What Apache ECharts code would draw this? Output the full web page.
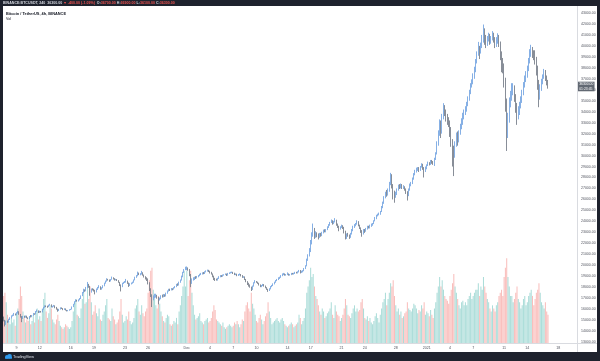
<!DOCTYPE html>
<html><head><meta charset="utf-8">
<script src="https://cdn.jsdelivr.net/npm/echarts/dist/echarts.min.js"></script>
<style>html,body{margin:0;padding:0;background:#1e222d;}#c{width:600px;height:361px;}</style>
</head><body><div id="c"></div>
<script>
// ---- data: BINANCE BTCUSDT 4h candles, from 2020-11-07 08:00 UTC ----
const firstOpen = 15250;
const close = [
14950,14700,14880,14830,
15050,15200,15380,15420,15560,15480,
15650,15780,15520,15300,15150,15330,
15250,15380,15200,15120,15310,15290,
15420,15600,15540,15780,15870,15700,
15800,15720,15980,16150,16300,16280,
16200,16350,16420,16180,16260,16320,
16150,16000,15850,15980,16120,16070,
15950,16050,15900,15820,15880,15960,
15990,16200,16450,16680,16820,16710,
16850,16950,17200,17500,17750,17650,
17950,18250,18050,17600,17820,17780,
17700,17550,17820,17950,18050,17800,
17950,18120,18350,18550,18720,18660,
18550,18700,18850,18780,18650,18700,
18600,18450,18200,18050,18350,18410,
18480,18550,18350,18150,18300,18370,
18450,18650,18900,19050,19250,19160,
19200,19320,19100,18950,18800,18720,
18400,17800,17250,16900,17100,17150,
17250,17050,16850,16950,17200,17140,
17300,17200,17450,17650,17800,17720,
17850,17800,17950,18050,18220,18190,
18450,18650,18950,19350,19600,19700,
19750,19600,19100,18400,18650,18770,
18900,18850,18950,19050,19150,19210,
19300,19250,19400,19480,19550,19420,
19350,19200,19000,18750,18700,18650,
18800,18950,19050,19000,19100,19150,
19200,19100,19250,19300,19350,19360,
19280,19150,19200,19050,19150,19170,
19050,18900,18950,18700,18500,18320,
18150,18000,17800,18100,18400,18540,
18450,18350,18200,18050,18150,18250,
18100,17950,17800,17700,17850,18040,
18150,18300,18450,18600,18700,18810,
18900,19050,19150,19200,19100,19170,
19200,19100,19150,19250,19200,19270,
19350,19300,19400,19550,19350,19430,
19500,19700,19950,20500,20900,21330,
22100,22800,23300,22600,22900,22800,
22650,22850,22700,22950,23150,23110,
23250,23450,23650,23900,24050,23820,
23950,24100,23700,23500,23350,23460,
23600,23400,23050,22500,22800,22720,
22600,22900,23200,23500,23650,23810,
23950,23650,23400,23100,22900,23230,
23150,23300,23500,23450,23600,23730,
23800,24050,24300,24550,24650,24710,
24900,25300,25700,26200,26500,26490,
26800,27500,28100,27200,26400,26280,
26500,26900,27200,27100,27300,27080,
27150,26900,26600,26400,26900,27380,
27500,27900,28300,28600,28750,28880,
28700,28950,29200,28850,28600,28920,
29100,29350,29200,29500,29400,29330,
29700,30200,31100,32000,33000,32180,
33600,34400,33900,33500,33200,33000,
32300,31200,30300,30100,31000,31990,
31500,32100,32600,33200,33600,33950,
34300,34700,35200,35800,36400,36770,
37200,37800,38600,39300,39700,39430,
40100,40600,41400,40700,40500,40580,
40900,40400,40700,41000,40600,40100,
40500,40800,40200,39200,38400,38150,
36800,34800,32000,33500,34800,35400,
35900,36200,35300,34300,33700,34050,
34600,35100,35700,36400,37000,37370,
37900,38600,39300,39700,39300,39140,
38700,37900,36600,35300,36100,36740,
37200,37600,37100,36700,36300
];
const high = [
15320,15020,14950,14960,
15120,15260,15430,15500,15650,15600,
15720,15840,15800,15560,15360,15380,
15400,15420,15400,15250,15360,15460,
15460,15650,15620,15820,15960,15880,
15850,15830,16020,16200,16340,16330,
16310,16400,16480,16430,16300,16380,
16340,16200,16050,16020,16160,16150,
16090,16080,16060,15930,15920,15990,
16020,16240,16480,16720,16880,16850,
16890,17010,17250,17560,17858,17800,
18020,18476,18300,18120,17880,17900,
17850,17760,17880,18020,18180,18080,
17990,18180,18410,18600,18815,18760,
18700,18740,18965,18900,18820,18760,
18740,18640,18480,18250,18400,18480,
18560,18750,18600,18420,18360,18420,
18500,18700,18950,19100,19418,19330,
19280,19484,19360,19150,19000,18900,
18800,18450,17900,17350,17250,17400,
17400,17300,17120,17050,17260,17320,
17380,17350,17500,17700,17850,17860,
17920,17900,18000,18100,18300,18350,
18500,18700,19050,19400,19650,19863,
19888,19800,19650,19200,18800,18900,
18950,19000,19020,19100,19220,19300,
19350,19380,19450,19530,19600,19580,
19500,19400,19250,19050,18850,18780,
18850,19000,19100,19100,19150,19180,
19250,19240,19300,19350,19400,19420,
19400,19320,19250,19230,19200,19250,
19200,19100,19000,18980,18750,18550,
18400,18250,18050,18150,18450,18640,
18560,18500,18400,18250,18200,18300,
18280,18150,18000,17850,17900,18100,
18200,18350,18500,18650,18750,18900,
18950,19100,19250,19300,19250,19200,
19350,19250,19200,19300,19300,19310,
19400,19400,19450,19570,19560,19500,
19550,19750,20000,20600,21000,21560,
22300,23000,23800,23400,23100,23000,
22900,22950,22950,23050,23250,23280,
23300,23550,23750,23950,24171,24100,
24050,24295,24150,23800,23600,23550,
23700,23650,23500,23150,22900,22950,
22800,22950,23300,23600,23750,23850,
24100,24020,23700,23450,23200,23300,
23300,23400,23600,23600,23700,23800,
23850,24100,24400,24600,24700,24800,
24950,25400,25800,26300,26700,26867,
27000,27600,28422,28300,27400,26800,
26700,27000,27350,27400,27450,27400,
27300,27200,27000,26750,27000,27450,
27600,28000,28400,28700,28900,28950,
28950,29050,29300,29250,28950,29000,
29200,29450,29400,29600,29600,29500,
29800,30300,31300,32300,33300,33200,
33800,34778,34600,34200,33800,33500,
33200,32600,31500,30900,31300,32100,
32200,32300,32900,33400,33900,34200,
34500,34900,35400,36000,36600,36950,
37500,38100,38800,39500,40365,40000,
40300,41000,41950,41600,41000,40900,
41200,41100,40900,41350,41200,40800,
40800,41150,41000,40400,39500,38900,
38400,37100,35200,33900,35300,35900,
36600,36600,36400,35600,34800,34500,
34900,35400,36000,36700,37300,37700,
38200,38900,39700,40100,39900,39600,
39600,39000,38200,36900,36500,37000,
37400,37900,37800,37300,36900
];
const low = [
14880,14420,14560,14750,
14780,15000,15150,15330,15380,15420,
15440,15600,15480,15220,14810,15100,
15200,15220,15160,15080,15090,15240,
15260,15400,15480,15520,15740,15640,
15660,15680,15700,15950,16120,16180,
16120,16180,16310,16150,16140,16220,
16080,15950,15760,15820,15960,16010,
15900,15920,15870,15790,15800,15850,
15910,15960,16180,16420,16650,16680,
16690,16800,16920,17180,17450,17580,
17620,17900,17950,17214,17500,17700,
17600,17340,17520,17750,17900,17760,
17770,17900,18080,18320,18500,18600,
18480,18520,18680,18700,18600,18620,
18560,18400,18100,17610,18000,18300,
18380,18420,18300,18020,18100,18250,
18320,18400,18620,18850,18990,19100,
19080,19150,19050,18880,18700,18565,
18250,17650,17100,16188,16800,16950,
17050,16950,16438,16780,16900,17050,
17080,17120,17150,17400,17600,17650,
17700,17720,17780,17900,18000,18120,
18150,18400,18600,18900,19300,19550,
19550,19500,19000,18001,18300,18600,
18650,18750,18800,18900,19000,19100,
19150,19180,19200,19350,19420,19380,
19250,19150,18900,18650,18565,18600,
18600,18750,18900,18920,18950,19050,
19100,19020,19050,19200,19250,19280,
19200,19100,19100,19000,19020,19080,
18980,18850,18850,18650,18450,18200,
18050,17950,17650,17750,18050,18350,
18400,18300,18150,18000,18000,18100,
18050,17900,17750,17572,17650,17800,
18000,18100,18250,18400,18550,18650,
18750,18850,19000,19100,19050,19050,
19100,19050,19050,19100,19150,19150,
19200,19250,19250,19350,19250,19300,
19350,19450,19650,19900,20400,20800,
21200,21900,22600,22400,22500,22550,
22350,22500,22600,22650,22900,23000,
23000,23200,23400,23600,23850,23700,
23750,23900,23600,23400,23100,23250,
23400,23300,22900,22350,22400,22600,
22400,22500,22800,23100,23400,23550,
23700,23550,23300,22950,22600,22800,
22950,23050,23250,23350,23350,23500,
23600,23750,24000,24200,24450,24550,
24600,24850,25200,25600,26100,26250,
26350,26700,27300,27000,26000,25700,
26150,26400,26800,26950,27000,26950,
26950,26800,26500,25900,26300,26800,
27200,27400,27800,28200,28450,28600,
28500,28600,28900,28700,28000,28500,
28750,29050,29100,29150,29250,29150,
29050,29600,30100,30900,31800,31600,
32000,33300,33600,33100,32800,32600,
31700,30800,29000,28130,29800,30800,
30900,31200,31900,32400,32800,33300,
33700,34000,34500,35000,35600,36200,
36500,37000,37600,38400,39100,38800,
39300,39800,40300,40100,39800,40000,
40400,40100,40200,40500,40300,39800,
39900,40200,39900,38700,37600,37500,
36200,34000,30420,31600,33000,34400,
35000,35500,34900,33900,32800,33300,
33700,34300,34800,35500,36200,36700,
37100,37700,38400,39000,38900,38700,
38300,37300,36000,34408,35100,35900,
36500,37000,36800,36400,36100
];
// volume, thousand BTC per 4h candle
const volume = [
30,32,26,18,
14,12,16,13,15,11,
18,22,28,36,30,20,
16,13,15,14,17,12,
14,18,13,20,22,15,
17,14,22,28,32,20,
16,19,24,22,15,13,
12,15,18,14,11,10,
9,10,12,11,10,9,
10,14,20,26,28,18,
17,16,22,28,34,25,
26,38,28,36,26,18,
20,24,19,17,22,15,
14,18,20,24,28,16,
15,14,22,17,15,12,
13,15,20,28,18,13,
14,17,15,20,14,12,
13,16,22,24,28,20,
18,24,19,17,20,22,
32,40,46,48,34,28,
24,22,30,25,20,17,
14,13,16,18,17,12,
11,12,14,13,16,12,
20,24,30,36,46,36,
46,30,40,46,32,24,
18,15,16,17,19,14,
13,12,14,15,16,13,
14,16,20,24,21,15,
14,13,12,11,13,10,
9,10,11,12,11,10,
11,13,12,14,12,10,
12,15,14,20,24,26,
22,20,32,25,22,18,
14,13,16,18,15,12,
14,17,19,26,20,16,
12,13,14,15,16,14,
13,15,16,14,12,11,
10,11,12,13,12,10,
11,12,13,18,16,12,
14,16,22,32,36,40,
48,42,44,36,30,28,
24,20,18,22,20,16,
17,19,20,22,26,18,
16,24,20,18,17,14,
16,18,22,28,24,18,
17,16,19,22,24,20,
22,20,21,26,28,22,
16,15,17,14,16,13,
12,14,17,19,16,13,
18,22,26,28,32,24,
28,32,38,36,40,30,
24,20,22,18,20,16,
17,19,20,26,22,21,
20,22,25,24,22,19,
21,20,24,22,26,18,
20,19,17,21,18,16,
22,26,32,36,42,36,
40,34,30,28,27,25,
30,34,38,44,36,32,
28,24,22,26,27,24,
26,24,28,30,32,28,
30,32,34,34,38,30,
36,34,42,36,32,28,
26,22,20,24,22,20,
24,26,30,32,34,30,
42,48,54,42,36,30,
30,26,28,32,36,28,
26,22,24,28,30,24,
26,30,32,34,30,24,
28,32,34,38,32,26,
24,22,26,20,18
];
const priceAxis = { min: 13000, max: 43000, interval: 1000 };
const volumeAxis = { min: 0, max: 72 };
const timeTicks = [
["2020-11-09 00","9"],["2020-11-12 00","12"],["2020-11-16 00","16"],["2020-11-19 00","19"],
["2020-11-23 00","23"],["2020-11-26 00","26"],["2020-12-01 00","Dec"],["2020-12-04 00","4"],
["2020-12-07 00","7"],["2020-12-10 00","10"],["2020-12-14 00","14"],["2020-12-17 00","17"],
["2020-12-21 00","21"],["2020-12-24 00","24"],["2020-12-28 00","28"],["2021-01-01 00","2021"],
["2021-01-04 00","4"],["2021-01-07 00","7"],["2021-01-11 00","11"],["2021-01-14 00","14"],
["2021-01-18 00","18"]
];
const startUTC = Date.UTC(2020, 10, 7, 8);
const slotCount = 445;
const symbolTitle = "Bitcoin / TetherUS, 4h, BINANCE";
const countdown = "01:23:45";

// ---- build ----
const pad = n => (n < 10 ? "0" : "") + n;
const categories = [];
for (let i = 0; i < slotCount; i++) {
  const d = new Date(startUTC + i * 4 * 3600 * 1000);
  categories.push(d.getUTCFullYear() + "-" + pad(d.getUTCMonth() + 1) + "-" + pad(d.getUTCDate()) + " " + pad(d.getUTCHours()));
}
const tickMap = new Map(timeTicks);
const opens = close.map((c, i) => (i === 0 ? firstOpen : close[i - 1]));
const candles = close.map((c, i) => [opens[i], c, low[i], high[i]]);
const upVol = 'rgba(38,166,154,0.38)', downVol = 'rgba(239,83,80,0.38)';
const volData = volume.map((v, i) => ({ value: v, itemStyle: { color: close[i] >= opens[i] ? upVol : downVol } }));
const n = close.length - 1;
const lastC = close[n], lastO = opens[n], prevC = close[n - 1];
const chg = lastC - prevC, pct = chg / prevC * 100;
const f2 = v => v.toFixed(2);

const chart = echarts.init(document.getElementById('c'), null, { renderer: 'canvas' });
chart.setOption({
  animation: false,
  backgroundColor: '#1e222d',
  textStyle: { fontFamily: 'Liberation Sans, Arial, sans-serif' },
  grid: [
    { left: 3, right: 23, top: 13, bottom: 19 },
    { left: 3, right: 23, top: 230, bottom: 18 }
  ],
  xAxis: [
    { type: 'category', gridIndex: 0, data: categories, boundaryGap: true, show: false },
    { type: 'category', gridIndex: 1, data: categories, boundaryGap: true,
      axisLine: { show: false }, axisTick: { show: false }, splitLine: { show: false },
      axisLabel: { interval: (idx, val) => tickMap.has(val), formatter: val => tickMap.get(val) || '',
        fontSize: 3.6, color: '#50535e', margin: 2.5 } }
  ],
  yAxis: [
    { type: 'value', gridIndex: 0, position: 'right', min: priceAxis.min, max: priceAxis.max, interval: priceAxis.interval,
      axisLine: { show: false }, axisTick: { show: false }, splitLine: { show: false },
      axisLabel: { formatter: v => v.toFixed(2), fontSize: 3.5, color: '#50535e', margin: 4 } },
    { type: 'value', gridIndex: 1, min: volumeAxis.min, max: volumeAxis.max, show: false }
  ],
  series: [
    { type: 'bar', xAxisIndex: 1, yAxisIndex: 1, data: volData, barCategoryGap: '20%', z: 1, silent: true },
    { type: 'candlestick', xAxisIndex: 0, yAxisIndex: 0, data: candles, barWidth: 1.2, z: 5,
      itemStyle: { color: '#4a86d6', color0: '#5a616c', borderColor: '#78a7e2', borderColor0: '#7a818c', borderWidth: 0.9 },
      markLine: { silent: true, symbol: 'none', animation: false,
        lineStyle: { color: 'rgba(0,0,0,0)', width: 0 },
        label: { show: true, position: 'end', distance: 1, formatter: () => f2(lastC) + '\n' + countdown,
          backgroundColor: '#626973', color: '#ffffff', fontSize: 3.4, lineHeight: 4.2, padding: [0.6, 1.2] },
        data: [{ yAxis: lastC }] } }
  ],
  graphic: [
    { type: 'rect', z: -100, shape: { x: 3, y: 6, width: 594, height: 346 }, style: { fill: '#ffffff' } },
    { type: 'line', z: 50, shape: { x1: 577.5, y1: 6, x2: 577.5, y2: 352 }, style: { stroke: '#d9dbe0', lineWidth: 1 } },
    { type: 'line', z: 50, shape: { x1: 3, y1: 343.5, x2: 597, y2: 343.5 }, style: { stroke: '#d9dbe0', lineWidth: 1 } },
    { type: 'text', z: 60, x: 3, y: 3, style: {
        text: '{w|BINANCE:BTCUSDT, 240  ' + f2(lastC) + '} {r|▼ ' + f2(chg) + ' (' + pct.toFixed(2) + '%)}  {w|O:}{r|' + f2(lastO) + '} {w|H:}{r|' + f2(high[n]) + '} {w|L:}{r|' + f2(low[n]) + '} {w|C:}{r|' + f2(lastC) + '}',
        verticalAlign: 'middle', font: 'bold 3.6px Liberation Sans',
        rich: { w: { fill: '#d1d4dc', font: 'bold 3.6px Liberation Sans' }, r: { fill: '#ef5350', font: 'bold 3.6px Liberation Sans' } } } },
    { type: 'text', z: 60, x: 6, y: 13.5, style: { text: symbolTitle, fill: '#131722', font: 'bold 3.9px Liberation Sans', verticalAlign: 'middle' } },
    { type: 'text', z: 60, x: 6, y: 19, style: { text: 'Vol', fill: '#131722', font: '3.6px Liberation Sans', verticalAlign: 'middle' } },
    { type: 'circle', z: 60, shape: { cx: 7, cy: 356.8, r: 1.9 }, style: { fill: '#2e9bf0' } },
    { type: 'circle', z: 60, shape: { cx: 9.6, cy: 356.2, r: 2.3 }, style: { fill: '#2e9bf0' } },
    { type: 'rect', z: 60, shape: { x: 5, y: 357, width: 7, height: 1.7 }, style: { fill: '#2e9bf0' } },
    { type: 'text', z: 60, x: 13, y: 357, style: { text: 'TradingView', fill: '#e0e3eb', font: '3.8px Liberation Sans', verticalAlign: 'middle' } }
  ]
});
</script>
</body></html>
